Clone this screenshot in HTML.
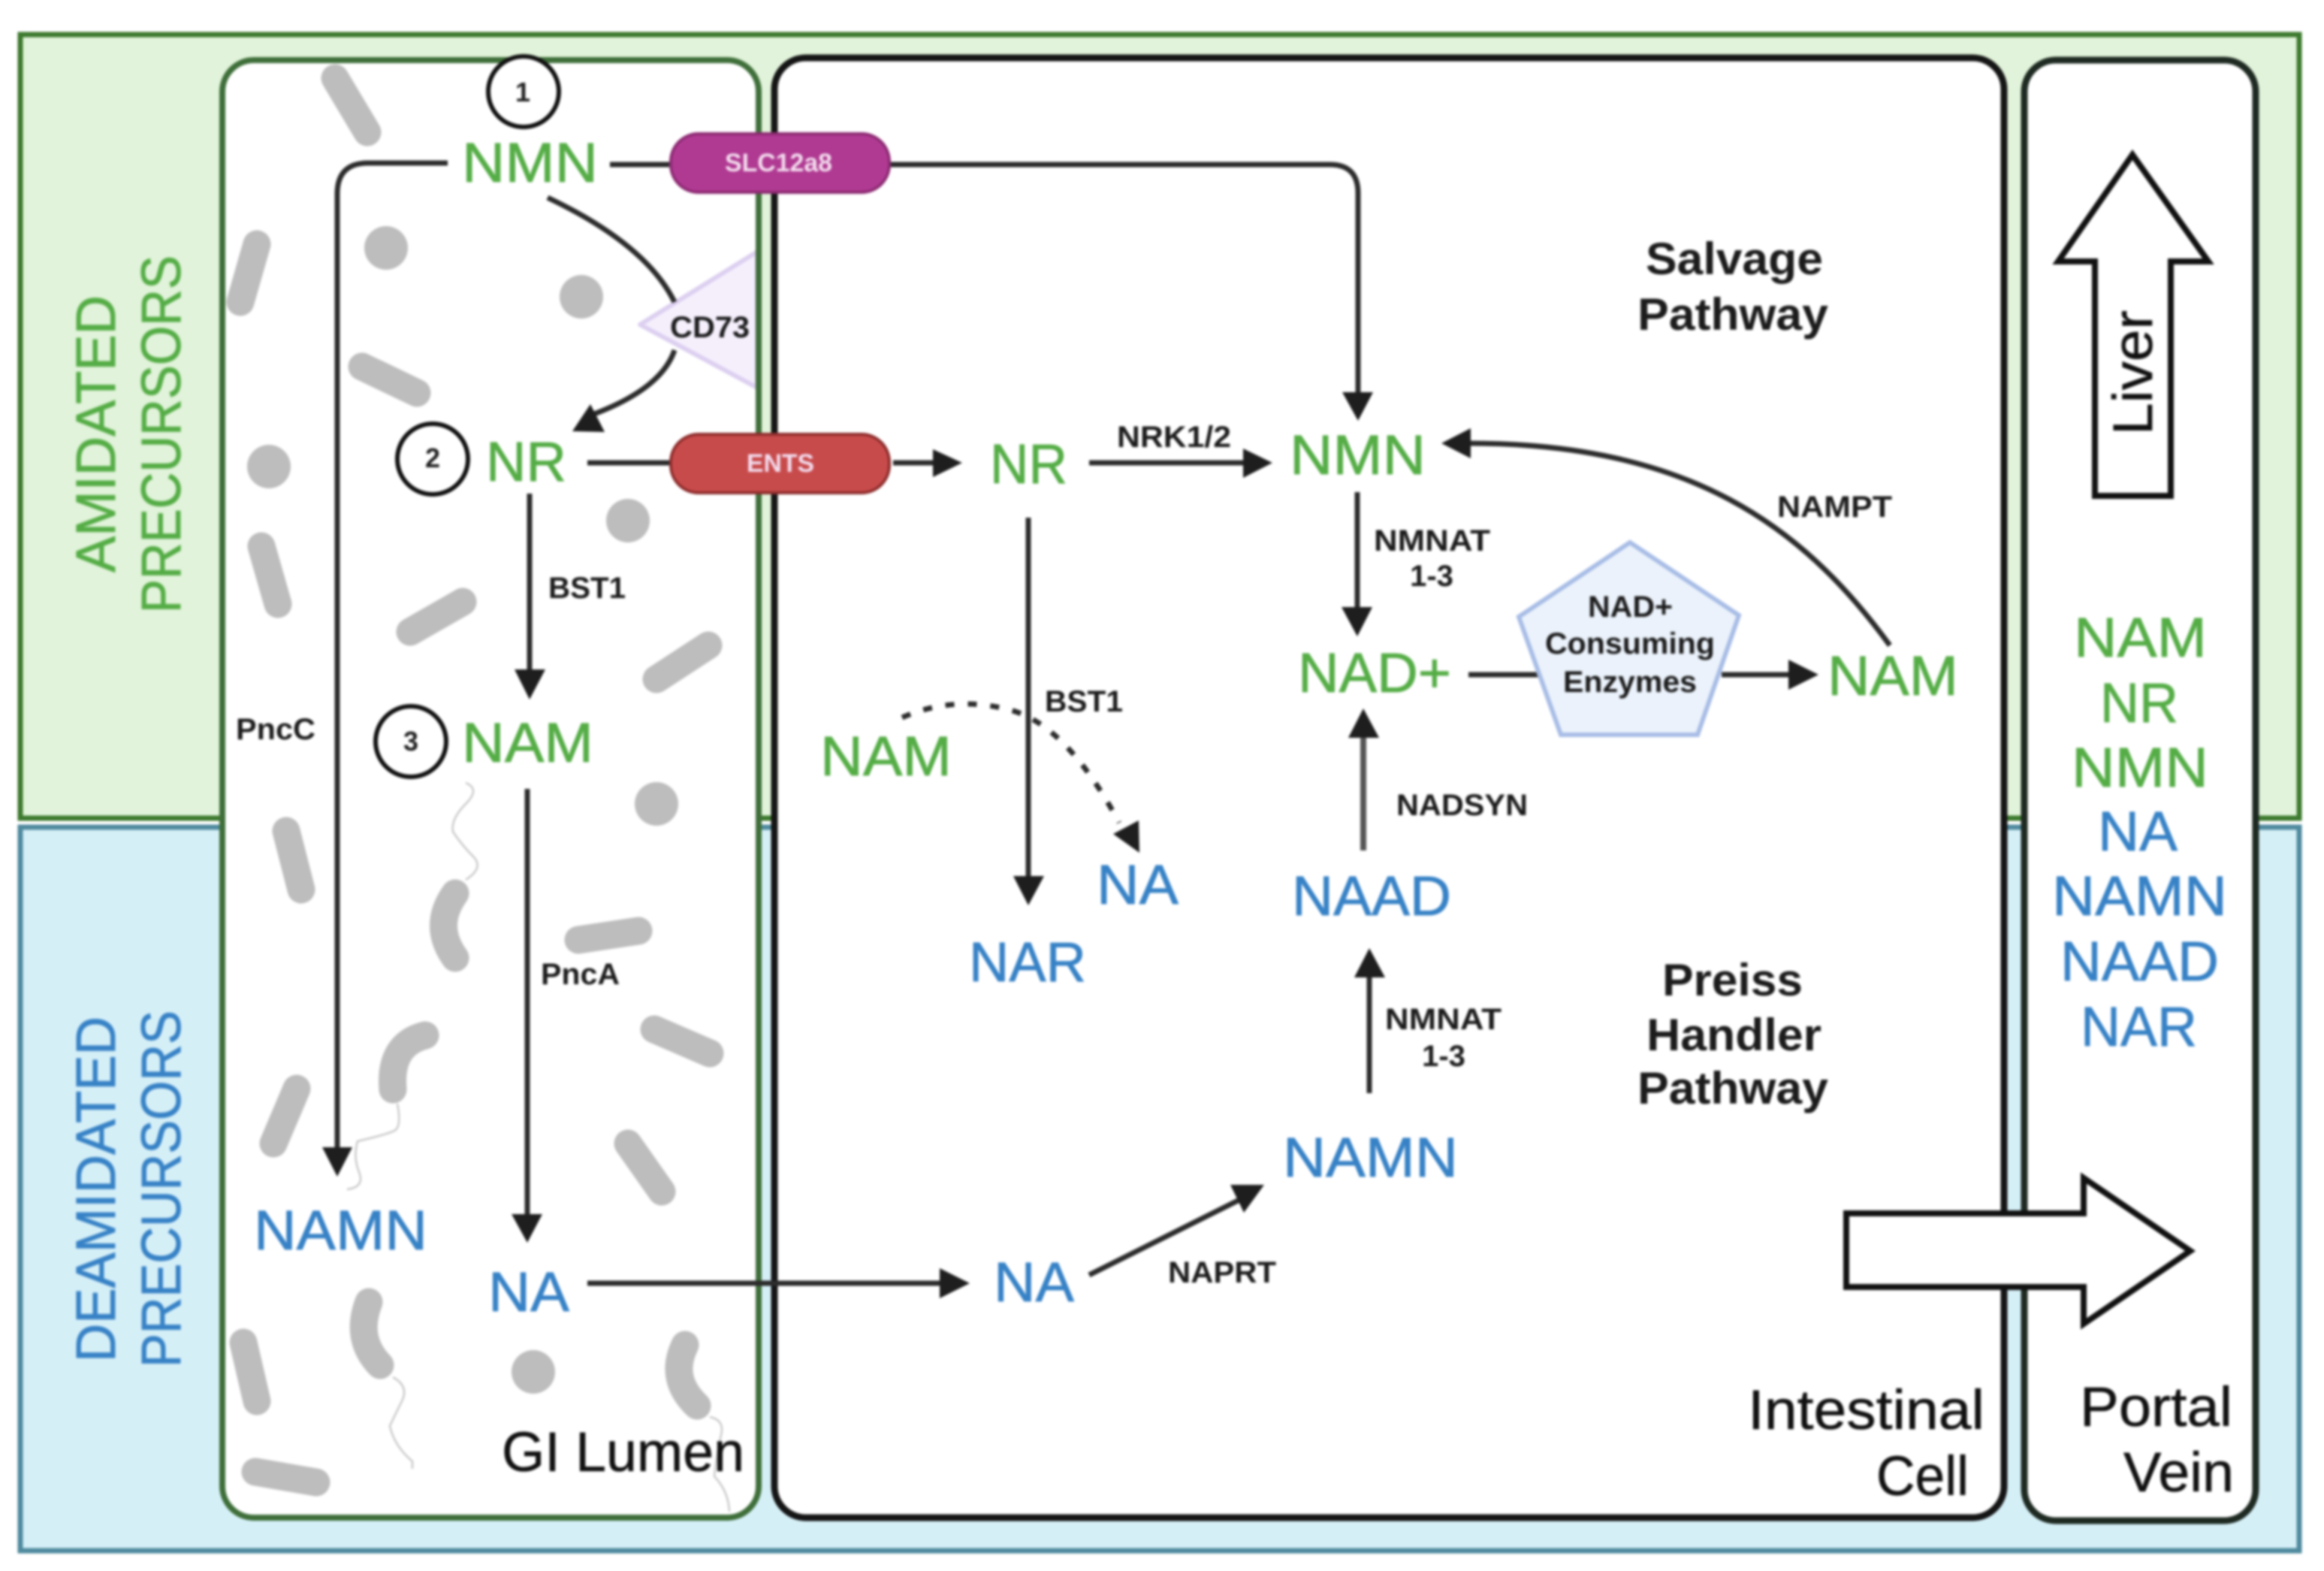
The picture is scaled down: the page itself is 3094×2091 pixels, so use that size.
<!DOCTYPE html>
<html><head><meta charset="utf-8"><style>
html,body{margin:0;padding:0;background:#fff;width:3094px;height:2091px;overflow:hidden}
svg{display:block;filter:blur(1.7px)}
text{font-family:"Liberation Sans",sans-serif}
.g{fill:#55ad46;stroke:#55ad46;stroke-width:.8;font-size:74px}
.b{fill:#3782c6;stroke:#3782c6;stroke-width:.8;font-size:74px}
.s{fill:#1c1c1c;font-size:40px;font-weight:bold}
.h{fill:#1c1c1c;font-size:60px;font-weight:bold}
.k{fill:#111;stroke:#111;stroke-width:.6;font-size:74px}
.n{fill:#222;font-size:36px;font-weight:bold;text-anchor:middle}
.p{fill:#f3dcee;font-size:34px;font-weight:bold}
.l{fill:none;stroke:#2c2c2c;stroke-width:7}
.a{fill:#1e1e1e}
.r{fill:none;stroke:#bdbdbd;stroke-width:37;stroke-linecap:round}
.f{fill:none;stroke:#c8c8c8;stroke-width:2.5}
.d{fill:#bdbdbd}
</style></head><body>
<svg width="3094" height="2091" viewBox="0 0 3094 2091" xmlns="http://www.w3.org/2000/svg">
<rect width="3094" height="2091" fill="#fff"/>
<rect x="27" y="46" width="3034" height="1043" fill="#e1f3da" stroke="#3d7a2e" stroke-width="7"/>
<rect x="27" y="1101" width="3034" height="963" fill="#d5eff7" stroke="#4f8a9e" stroke-width="7"/>
<rect x="296" y="80" width="714" height="1940" rx="42" fill="#fff" stroke="#3f6f3a" stroke-width="8"/>
<rect x="1031" y="77" width="1637" height="1943" rx="42" fill="#fff" stroke="#151515" stroke-width="9"/>
<rect x="2695" y="80" width="308" height="1944" rx="42" fill="#fff" stroke="#1e2a22" stroke-width="9"/>

<!-- bacteria -->
<path class="r" d="M446 104L489 176M342 325L320 402M482 488L555 523M348 727L370 804M616 801L546 841M943 859L874 904M381 1106L401 1184M770 1251L850 1239M871 1370L945 1402M395 1449L364 1522M836 1522L881 1586M324 1787L342 1865M340 1959L421 1973"/>
<circle class="d" cx="514" cy="330" r="29"/><circle class="d" cx="774" cy="395" r="29"/><circle class="d" cx="358" cy="621" r="29"/><circle class="d" cx="836" cy="693" r="29"/><circle class="d" cx="874" cy="1070" r="29"/><circle class="d" cx="710" cy="1826" r="29"/>
<path class="r" d="M606 1189Q575 1232 606 1275M566 1378Q518 1390 523 1450M491 1733Q472 1782 506 1817M912 1790Q890 1835 928 1871"/>
<path class="f" d="M620 1171Q645 1155 630 1140T603 1107Q600 1090 620 1070T620 1042M529 1469Q535 1500 525 1505T476 1519Q470 1540 478 1560T462 1583M523 1833Q545 1845 535 1865T519 1898Q525 1925 549 1945V1955M945 1886Q965 1890 960 1910T951 1965Q970 1985 971 2012"/>

<!-- CD73 -->
<path d="M852 432L1008 335V516Z" fill="#f5effc" stroke="#dccff0" stroke-width="6" stroke-linejoin="round"/>
<rect x="1006" y="320" width="8" height="210" fill="#3f6f3a"/>

<!-- connectors -->
<path class="l" d="M596 217H490Q449 217 449 258V1530"/>
<path class="a" d="M429 1527H469L449 1566Z"/>
<path class="l" d="M812 219H891M1184 219H1770Q1808 219 1808 257V525"/>
<path class="a" d="M1787 522H1828L1808 560Z"/>
<path class="l" d="M729 263Q860 325 898 402M898 466Q880 520 780 555"/>
<path class="a" d="M762 574L786 538L805 575Z"/>
<path class="l" d="M782 616H891M1189 616H1245"/>
<path class="a" d="M1242 598L1281 616L1242 635Z"/>
<path class="l" d="M1450 616H1658"/>
<path class="a" d="M1655 597L1694 616L1655 636Z"/>
<path class="l" d="M705 657V895"/>
<path class="a" d="M685 891H726L705 931Z"/>
<path class="l" d="M702 1050V1620"/>
<path class="a" d="M681 1616H722L702 1654Z"/>
<path class="l" d="M782 1708H1255"/>
<path class="a" d="M1251 1688L1291 1708L1251 1728Z"/>
<path class="l" d="M1369 689V1170"/>
<path class="a" d="M1349 1166H1390L1369 1205Z"/>
<path class="l" d="M1807 655V812"/>
<path class="a" d="M1786 808H1827L1807 847Z"/>
<path class="l" style="stroke:#555;stroke-width:8" d="M1815 1132V978"/>
<path class="a" d="M1795 982H1836L1815 943Z"/>
<path class="l" d="M1823 1455V1297"/>
<path class="a" d="M1803 1301H1844L1823 1262Z"/>
<path class="l" d="M1450 1697L1650 1597"/>
<path class="a" d="M1638 1577L1683 1577L1656 1614Z"/>
<path class="l" d="M1955 898H2050M2292 898H2385"/>
<path class="a" d="M2381 878L2421 898L2381 918Z"/>
<path class="l" d="M2516 859C2400 700 2250 590 1955 590"/>
<path class="a" d="M1958 570V610L1919 590Z"/>
<path class="l" style="stroke-width:7;stroke-dasharray:12 18" d="M1201 955Q1270 925 1345 945T1490 1095"/>
<path class="a" d="M1516 1092L1482 1110L1517 1135Z"/>

<!-- pentagon -->
<path d="M2170 722L2315 819L2260 978H2078L2022 821Z" fill="#ebf2fb" stroke="#a8bde6" stroke-width="6"/>

<!-- pills -->
<rect x="893" y="178" width="291" height="78" rx="37" fill="#b03a92" stroke="#8d2a73" stroke-width="4"/>
<text class="p" x="965" y="228" textLength="143" lengthAdjust="spacingAndGlyphs">SLC12a8</text>
<rect x="893" y="578" width="291" height="78" rx="37" fill="#c84b4b" stroke="#8f2d2d" stroke-width="4"/>
<text class="p" x="994" y="628" textLength="90" lengthAdjust="spacingAndGlyphs" style="font-weight:bold">ENTS</text>

<!-- circles -->
<circle cx="697" cy="122" r="47" fill="#fff" stroke="#111" stroke-width="6"/><text class="n" x="696" y="135">1</text>
<circle cx="576" cy="611" r="47" fill="#fff" stroke="#111" stroke-width="6"/><text class="n" x="576" y="622">2</text>
<circle cx="547" cy="987" r="47" fill="#fff" stroke="#111" stroke-width="6"/><text class="n" x="547" y="999">3</text>

<!-- big block arrows -->
<path d="M2839 206L2940 348H2890V660H2789V348H2740Z" fill="#fff" stroke="#111" stroke-width="8"/>
<path d="M2458 1615H2774V1568L2916 1665L2774 1762V1713H2458Z" fill="#fff" stroke="#111" stroke-width="8"/>

<!-- side labels -->
<text class="g" transform="translate(153,762) rotate(-90)" textLength="369" lengthAdjust="spacingAndGlyphs">AMIDATED</text>
<text class="g" transform="translate(240,816) rotate(-90)" textLength="476" lengthAdjust="spacingAndGlyphs">PRECURSORS</text>
<text class="b" transform="translate(153,1813) rotate(-90)" textLength="460" lengthAdjust="spacingAndGlyphs">DEAMIDATED</text>
<text class="b" transform="translate(240,1820) rotate(-90)" textLength="475" lengthAdjust="spacingAndGlyphs">PRECURSORS</text>
<text class="k" transform="translate(2865,579) rotate(-90)" textLength="166" lengthAdjust="spacingAndGlyphs">Liver</text>

<!-- metabolites -->
<text class="g" x="615" y="242" textLength="181" lengthAdjust="spacingAndGlyphs">NMN</text>
<text class="g" x="647" y="640" textLength="107" lengthAdjust="spacingAndGlyphs">NR</text>
<text class="g" x="615" y="1014" textLength="175" lengthAdjust="spacingAndGlyphs">NAM</text>
<text class="b" x="338" y="1663" textLength="231" lengthAdjust="spacingAndGlyphs">NAMN</text>
<text class="b" x="650" y="1745" textLength="108" lengthAdjust="spacingAndGlyphs">NA</text>
<text class="g" x="1318" y="643" textLength="103" lengthAdjust="spacingAndGlyphs">NR</text>
<text class="g" x="1717" y="631" textLength="181" lengthAdjust="spacingAndGlyphs">NMN</text>
<text class="g" x="1728" y="921" textLength="204" lengthAdjust="spacingAndGlyphs">NAD+</text>
<text class="g" x="1092" y="1032" textLength="175" lengthAdjust="spacingAndGlyphs">NAM</text>
<text class="b" x="1460" y="1203" textLength="109" lengthAdjust="spacingAndGlyphs">NA</text>
<text class="b" x="1290" y="1306" textLength="156" lengthAdjust="spacingAndGlyphs">NAR</text>
<text class="b" x="1720" y="1218" textLength="212" lengthAdjust="spacingAndGlyphs">NAAD</text>
<text class="b" x="1708" y="1566" textLength="233" lengthAdjust="spacingAndGlyphs">NAMN</text>
<text class="b" x="1323" y="1732" textLength="107" lengthAdjust="spacingAndGlyphs">NA</text>
<text class="g" x="2433" y="925" textLength="174" lengthAdjust="spacingAndGlyphs">NAM</text>

<text class="g" x="2761" y="874" textLength="177" lengthAdjust="spacingAndGlyphs">NAM</text>
<text class="g" x="2796" y="961" textLength="104" lengthAdjust="spacingAndGlyphs">NR</text>
<text class="g" x="2758" y="1047" textLength="182" lengthAdjust="spacingAndGlyphs">NMN</text>
<text class="b" x="2793" y="1132" textLength="106" lengthAdjust="spacingAndGlyphs">NA</text>
<text class="b" x="2732" y="1218" textLength="233" lengthAdjust="spacingAndGlyphs">NAMN</text>
<text class="b" x="2743" y="1305" textLength="211" lengthAdjust="spacingAndGlyphs">NAAD</text>
<text class="b" x="2770" y="1392" textLength="155" lengthAdjust="spacingAndGlyphs">NAR</text>

<!-- enzymes -->
<text class="s" x="730" y="796" textLength="103" lengthAdjust="spacingAndGlyphs">BST1</text>
<text class="s" x="314" y="984" textLength="106" lengthAdjust="spacingAndGlyphs">PncC</text>
<text class="s" x="892" y="449" textLength="106" lengthAdjust="spacingAndGlyphs">CD73</text>
<text class="s" x="720" y="1310" textLength="105" lengthAdjust="spacingAndGlyphs">PncA</text>
<text class="s" x="1487" y="595" textLength="152" lengthAdjust="spacingAndGlyphs">NRK1/2</text>
<text class="s" x="1829" y="733" textLength="155" lengthAdjust="spacingAndGlyphs">NMNAT</text>
<text class="s" x="1906" y="780" text-anchor="middle">1-3</text>
<text class="s" x="1391" y="947" textLength="104" lengthAdjust="spacingAndGlyphs">BST1</text>
<text class="s" x="2366" y="688" textLength="153" lengthAdjust="spacingAndGlyphs">NAMPT</text>
<text class="s" x="1859" y="1085" textLength="175" lengthAdjust="spacingAndGlyphs">NADSYN</text>
<text class="s" x="1844" y="1370" textLength="155" lengthAdjust="spacingAndGlyphs">NMNAT</text>
<text class="s" x="1922" y="1419" text-anchor="middle">1-3</text>
<text class="s" x="1555" y="1707" textLength="144" lengthAdjust="spacingAndGlyphs">NAPRT</text>
<text class="s" x="2114" y="821" textLength="113" lengthAdjust="spacingAndGlyphs">NAD+</text>
<text class="s" x="2057" y="870" textLength="226" lengthAdjust="spacingAndGlyphs">Consuming</text>
<text class="s" x="2081" y="921" textLength="178" lengthAdjust="spacingAndGlyphs">Enzymes</text>

<!-- headings -->
<text class="h" x="2191" y="365" textLength="236" lengthAdjust="spacingAndGlyphs">Salvage</text>
<text class="h" x="2180" y="439" textLength="254" lengthAdjust="spacingAndGlyphs">Pathway</text>
<text class="h" x="2213" y="1325" textLength="187" lengthAdjust="spacingAndGlyphs">Preiss</text>
<text class="h" x="2192" y="1398" textLength="233" lengthAdjust="spacingAndGlyphs">Handler</text>
<text class="h" x="2180" y="1469" textLength="254" lengthAdjust="spacingAndGlyphs">Pathway</text>

<text class="k" x="668" y="1958" textLength="323" lengthAdjust="spacingAndGlyphs">GI Lumen</text>
<text class="k" x="2327" y="1902" textLength="315" lengthAdjust="spacingAndGlyphs">Intestinal</text>
<text class="k" x="2498" y="1990" textLength="123" lengthAdjust="spacingAndGlyphs">Cell</text>
<text class="k" x="2769" y="1898" textLength="203" lengthAdjust="spacingAndGlyphs">Portal</text>
<text class="k" x="2827" y="1985" textLength="147" lengthAdjust="spacingAndGlyphs">Vein</text>
</svg>
</body></html>
